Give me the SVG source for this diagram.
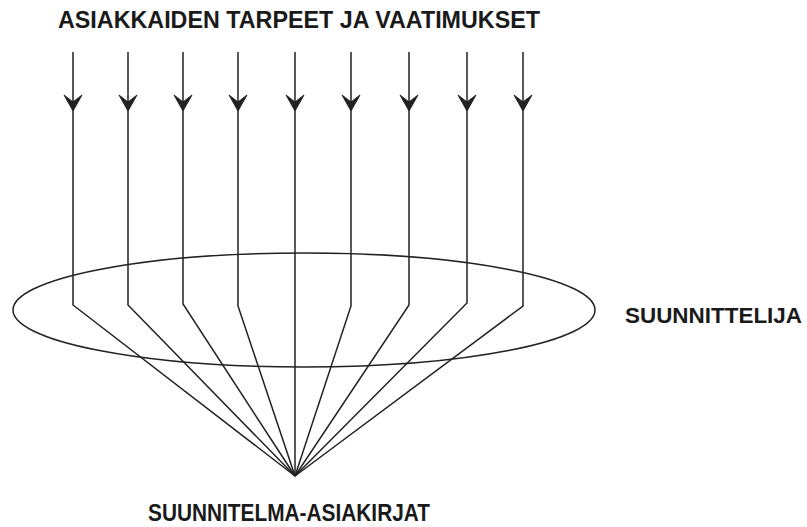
<svg xmlns="http://www.w3.org/2000/svg" xmlns:xlink="http://www.w3.org/1999/xlink" width="807" height="527" viewBox="0 0 807 527">
<style>
.ln{fill:none;stroke:#222;stroke-width:1.5;stroke-linejoin:miter}
.lbl{font-family:"Liberation Sans",Arial,sans-serif;font-weight:bold;fill:#1a1a1a}
.ah{fill:#222;stroke:#222;stroke-width:1}
</style>
<defs>
<path id="arrow" class="ah" d="M-9,-16 L0,0 L9,-16 L0,-9 Z"/>
</defs>
<rect width="807" height="527" fill="#fff"/>
<g id="title"><text class="lbl" x="58" y="28" font-size="23" textLength="482" lengthAdjust="spacingAndGlyphs">ASIAKKAIDEN TARPEET JA VAATIMUKSET</text></g>
<g id="suunnittelija">
<ellipse class="ln" cx="304" cy="310" rx="291" ry="57" stroke-width="1.7"/>
<text class="lbl" x="625" y="323" font-size="22" textLength="177" lengthAdjust="spacingAndGlyphs">SUUNNITTELIJA</text>
</g>
<g id="asiakirjat"><text class="lbl" x="148" y="521" font-size="23" textLength="282" lengthAdjust="spacingAndGlyphs">SUUNNITELMA-ASIAKIRJAT</text></g>
<g id="connectors">
<path class="ln" d="M73,52 V305 L295,476"/>
<path class="ln" d="M128,52 V305 L295,476"/>
<path class="ln" d="M183,52 V304 L295,476"/>
<path class="ln" d="M238,52 V306 L295,476"/>
<path class="ln" d="M295,52 V476"/>
<path class="ln" d="M351,52 V306 L295,476"/>
<path class="ln" d="M409,52 V305 L295,476"/>
<path class="ln" d="M467,52 V303 L295,476"/>
<path class="ln" d="M523,52 V306 L295,476"/>
<use xlink:href="#arrow" x="73" y="111"/>
<use xlink:href="#arrow" x="128" y="111"/>
<use xlink:href="#arrow" x="183" y="111"/>
<use xlink:href="#arrow" x="238" y="111"/>
<use xlink:href="#arrow" x="295" y="111"/>
<use xlink:href="#arrow" x="351" y="111"/>
<use xlink:href="#arrow" x="409" y="111"/>
<use xlink:href="#arrow" x="467" y="111"/>
<use xlink:href="#arrow" x="523" y="111"/>
</g>
</svg>
